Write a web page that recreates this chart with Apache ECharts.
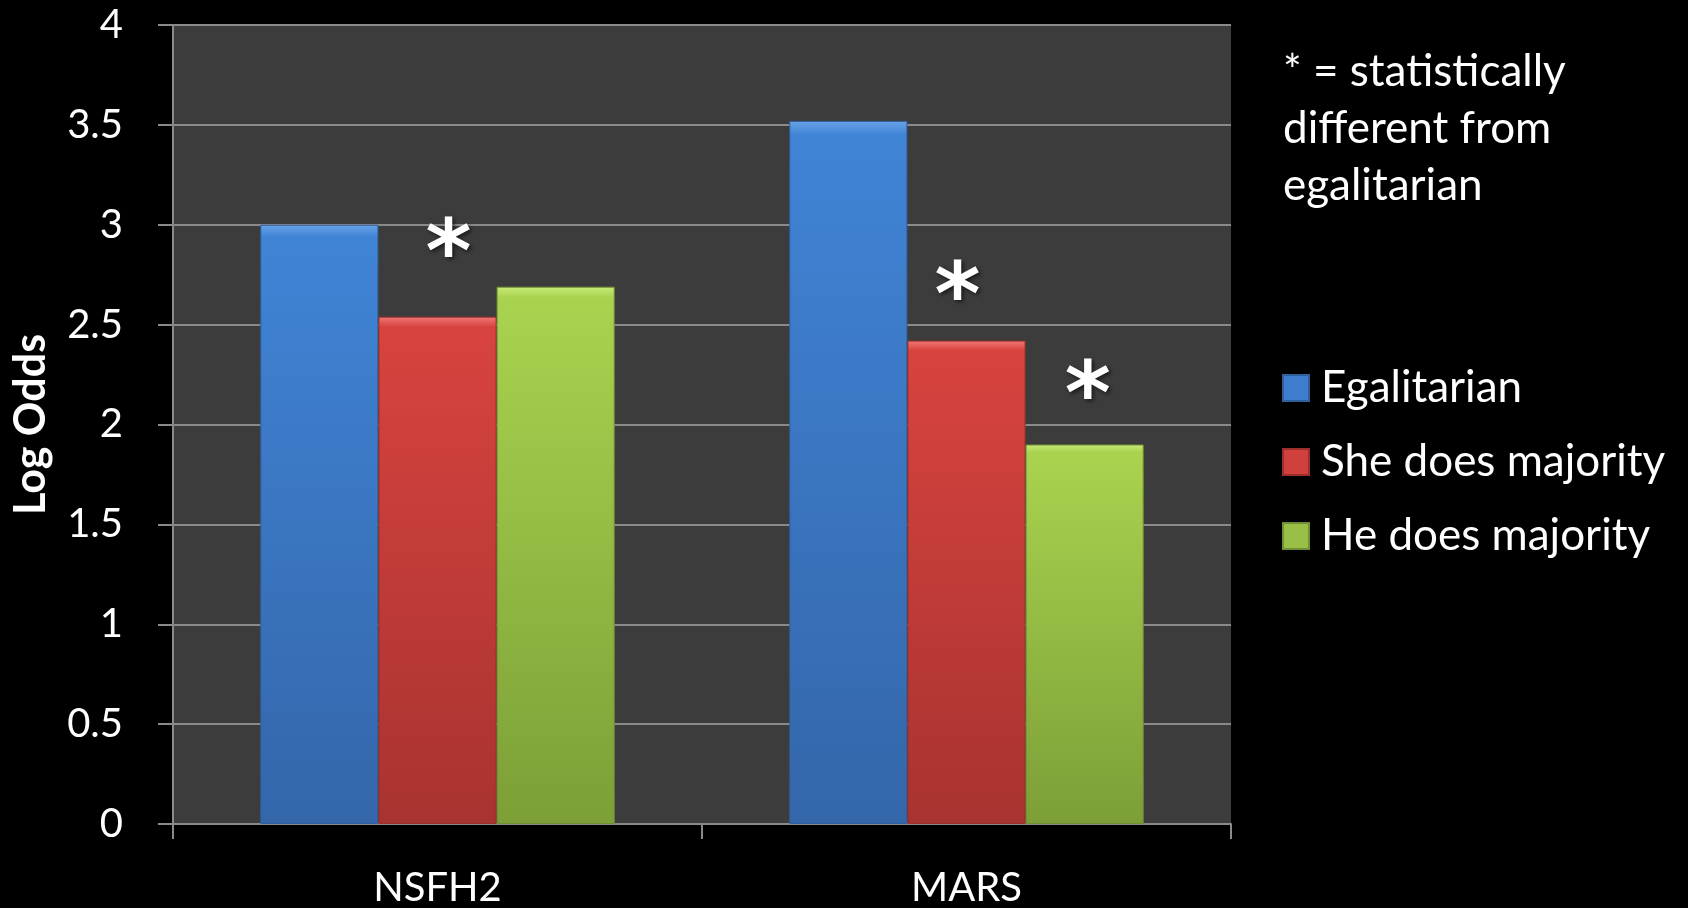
<!DOCTYPE html>
<html>
<head>
<meta charset="utf-8">
<script src="https://cdn.jsdelivr.net/npm/echarts@6/dist/echarts.min.js"></script>
<style>
  html, body { margin: 0; padding: 0; background: #000; }
  #chart { width: 1688px; height: 908px; }
</style>
</head>
<body>
<div id="chart"></div>
<script>
// data
var categories = ['NSFH2', 'MARS']
var seriesNames = ['Egalitarian', 'She does majority', 'He does majority']
var egalitarian = [3.0, 3.52]
var sheDoes = [2.54, 2.42]
var heDoes = [2.69, 1.90]
// which bars carry a "*" (statistically different from egalitarian)
var sheSig = [true, true]
var heSig = [false, true]
var yTicks = [0, 0.5, 1, 1.5, 2, 2.5, 3, 3.5, 4]

var FONT = 'Lato, "Open Sans", sans-serif'

function grad (top, mid, bottom) {
  return new echarts.graphic.LinearGradient(0, 0, 0, 1, [
    { offset: 0, color: top },
    { offset: 0.02, color: mid },
    { offset: 1, color: bottom }
  ])
}

var colors = [
  { fill: grad('#6aa3e8', '#4084d6', '#3466aa'), border: '#2f5f9e', legend: '#3e7ccd' },
  { fill: grad('#f07a78', '#d8433f', '#a83330'), border: '#9a2f2c', legend: '#d0403c' },
  { fill: grad('#c8ea7a', '#a9d34f', '#7c9f37'), border: '#718f33', legend: '#98c046' }
]

// placement of the asterisks relative to the bar top (distance, x shift)
var starGap = [[0, 0], [14, -5], [0, 0]]
var starShift = [[0, 0], [11, -9], [0, 3]]

function makeData (vals, sig, k) {
  return vals.map(function (v, i) {
    var d = { value: v }
    if (sig && sig[i]) {
      d.label = { show: true, distance: starGap[k][i], offset: [starShift[k][i], 0] }
    }
    return d
  })
}

var allVals = [egalitarian, sheDoes, heDoes]
var allSig = [null, sheSig, heSig]

var series = seriesNames.map(function (name, k) {
  return {
    name: name,
    type: 'bar',
    barGap: '0%',
    barCategoryGap: '33%',
    data: makeData(allVals[k], allSig[k], k),
    itemStyle: {
      color: colors[k].fill,
      borderColor: colors[k].border,
      borderWidth: 1
    },
    label: {
      show: false,
      position: 'top',
      formatter: '*',
      color: '#fff',
      fontSize: 88,
      fontWeight: 'bold',
      fontFamily: 'DejaVu Sans',
      textShadowColor: 'rgba(0,0,0,0.6)',
      textShadowBlur: 4,
      textShadowOffsetX: 2,
      textShadowOffsetY: 2
    }
  }
})

var chart = echarts.init(document.getElementById('chart'))
chart.setOption({
  backgroundColor: '#000',
  animation: false,
  title: {
    text: '* = statistically\ndifferent from\negalitarian',
    left: 1278,
    top: 38,
    textStyle: {
      color: '#fff',
      fontFamily: FONT,
      fontWeight: 'normal',
      fontSize: 44,
      lineHeight: 57
    }
  },
  legend: {
    orient: 'vertical',
    left: 1277,
    top: 360,
    itemWidth: 26,
    itemHeight: 26,
    itemGap: 28,
    icon: 'rect',
    data: seriesNames.map(function (n, k) {
      return { name: n, itemStyle: { color: colors[k].legend } }
    }),
    textStyle: { color: '#fff', fontFamily: FONT, fontSize: 44, lineHeight: 46, padding: [0, 0, 0, 7] }
  },
  grid: {
    left: 173,
    right: 457,
    top: 25,
    bottom: 81,
    show: true,
    backgroundColor: '#3c3c3c',
    borderWidth: 0
  },
  xAxis: {
    type: 'category',
    data: categories,
    axisLine: { lineStyle: { color: '#8a8a8a', width: 2 } },
    axisTick: { show: true, length: 15, lineStyle: { color: '#8a8a8a', width: 2 } },
    axisLabel: { color: '#fff', fontFamily: FONT, fontSize: 40, margin: 44 }
  },
  yAxis: {
    type: 'value',
    min: yTicks[0],
    max: yTicks[yTicks.length - 1],
    interval: 0.5,
    name: 'Log Odds',
    nameLocation: 'middle',
    nameRotate: 90,
    nameGap: 120,
    nameTextStyle: { color: '#fff', fontFamily: FONT, fontWeight: 'bold', fontSize: 43 },
    axisLine: { show: true, lineStyle: { color: '#8a8a8a', width: 2 } },
    axisTick: { show: true, length: 15, lineStyle: { color: '#8a8a8a', width: 2 } },
    splitLine: { lineStyle: { color: '#8a8a8a', width: 2 } },
    axisLabel: { color: '#fff', fontFamily: FONT, fontSize: 40, margin: 50 }
  },
  series: series
})
</script>
</body>
</html>
